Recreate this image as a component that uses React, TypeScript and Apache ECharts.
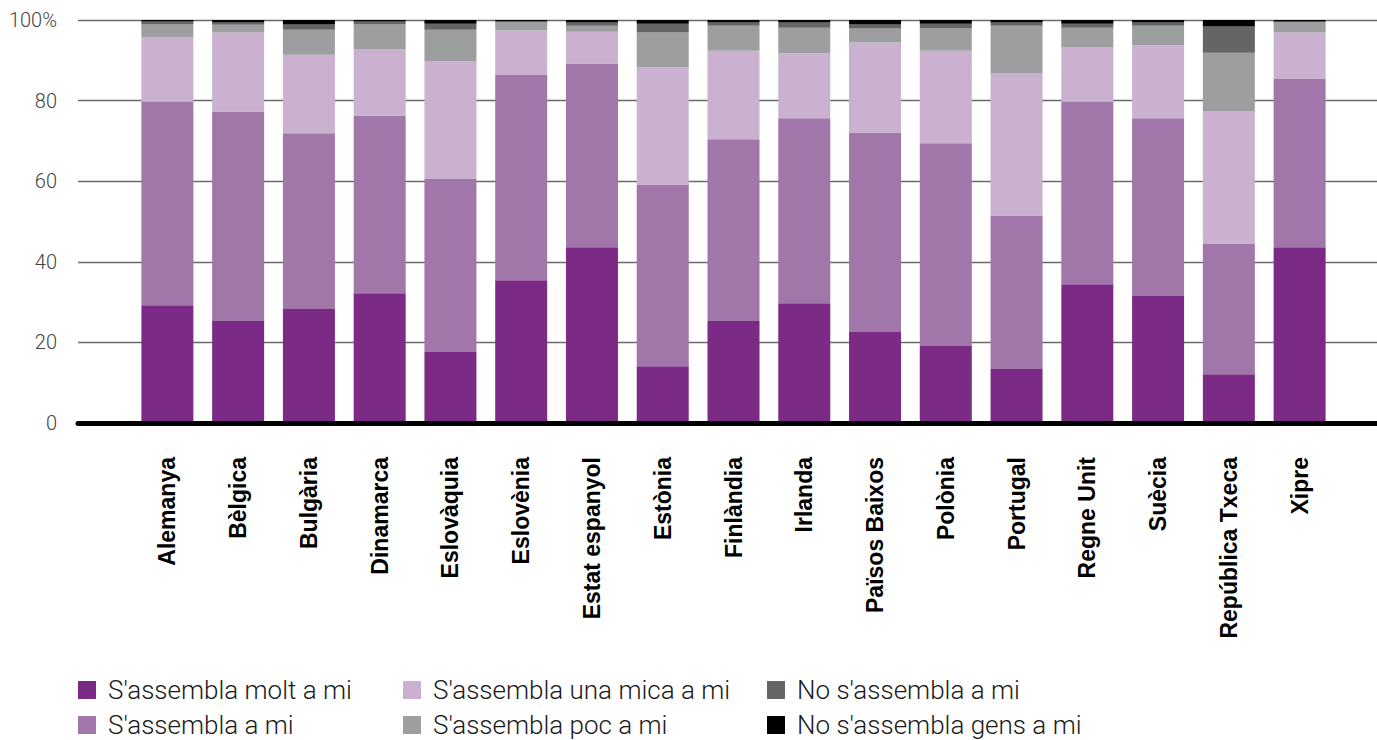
import React, { useEffect, useRef } from "react";
import * as echarts from "echarts";

const categories = [
  "Alemanya", "Bèlgica", "Bulgària", "Dinamarca", "Eslovàquia", "Eslovènia",
  "Estat espanyol", "Estònia", "Finlàndia", "Irlanda", "Països Baixos", "Polònia",
  "Portugal", "Regne Unit", "Suècia", "República Txeca", "Xipre",
];

const seriesNames = [
  "S'assembla molt a mi",
  "S'assembla a mi",
  "S'assembla una mica a mi",
  "S'assembla poc a mi",
  "No s'assembla a mi",
  "No s'assembla gens a mi",
];

const moltAMi = [29.2, 25.3, 28.3, 32.2, 17.6, 35.4, 43.6, 14.1, 25.3, 29.7, 22.6, 19.1, 13.4, 34.4, 31.5, 12.1, 43.6];
const aMi = [50.6, 52.0, 43.6, 44.1, 43.1, 51.1, 45.6, 45.1, 45.1, 45.9, 49.5, 50.3, 38.1, 45.4, 44.1, 32.3, 41.9];
const unaMicaAMi = [15.9, 19.6, 19.5, 16.4, 29.0, 10.9, 7.9, 29.0, 22.0, 16.1, 22.3, 23.0, 35.2, 13.4, 18.1, 32.9, 11.4];
const pocAMi = [3.2, 1.9, 6.2, 6.2, 7.9, 2.0, 1.5, 8.7, 6.2, 6.4, 3.5, 5.5, 11.9, 4.9, 4.9, 14.6, 2.5];
const noAMi = [0.7, 0.6, 1.3, 0.7, 1.5, 0.3, 0.8, 2.2, 0.8, 1.3, 1.0, 1.2, 0.8, 1.0, 0.8, 6.5, 0.2];
const gensAMi = [0.4, 0.6, 1.1, 0.4, 0.9, 0.3, 0.6, 0.9, 0.6, 0.6, 1.1, 0.9, 0.6, 0.9, 0.6, 1.6, 0.4];

const seriesData = [moltAMi, aMi, unaMicaAMi, pocAMi, noAMi, gensAMi];
const colors = ["#7B2A85", "#A176A8", "#C9B1CF", "#9D9EA0", "#646567", "#000000"];

const yTicks = [0, 20, 40, 60, 80, 100];

export default function App() {
  const ref = useRef<HTMLDivElement>(null);

  useEffect(() => {
    if (!ref.current) return;
    const chart = echarts.init(ref.current, undefined, { renderer: "svg" });
    const legendText = {
      fontFamily: "Roboto",
      fontWeight: 300,
      fontSize: 26,
      lineHeight: 26,
      color: "#1a1a1a",
      padding: [0, 0, 0, 7],
    };
    const legendBase = {
      orient: "vertical",
      top: 677,
      padding: 0,
      itemWidth: 18,
      itemHeight: 18,
      itemGap: 9,
      icon: "rect",
      textStyle: legendText,
    };
    chart.setOption({
      animation: false,
      color: colors,
      grid: [
        { left: 78, right: 0, top: 20, height: 403 },
        { left: 132, width: 1203, top: 20, height: 403 },
      ],
      legend: [
        { ...legendBase, left: 78, data: [seriesNames[0], seriesNames[1]] },
        { ...legendBase, left: 403, data: [seriesNames[2], seriesNames[3]] },
        { ...legendBase, left: 767, data: [seriesNames[4], seriesNames[5]] },
      ],
      xAxis: [
        {
          gridIndex: 0,
          type: "value",
          min: 0,
          max: 1,
          z: 10,
          axisLine: { show: true, lineStyle: { color: "#000", width: 5 } },
          axisTick: { show: false },
          axisLabel: { show: false },
          splitLine: { show: false },
        },
        {
          gridIndex: 1,
          type: "category",
          data: categories,
          axisLine: { show: false },
          axisTick: { show: false },
          axisLabel: {
            rotate: 90,
            margin: 34,
            interval: 0,
            fontFamily: "Liberation Sans",
            fontWeight: "bold",
            fontSize: 23,
            color: "#000",
          },
        },
      ],
      yAxis: [
        {
          gridIndex: 0,
          type: "value",
          min: yTicks[0],
          max: yTicks[yTicks.length - 1],
          interval: 20,
          axisLine: { show: false },
          axisTick: { show: false },
          axisLabel: {
            margin: 21,
            fontFamily: "Roboto",
            fontWeight: 300,
            fontSize: 20,
            color: "#444",
            formatter: (v: number) => (v === 100 ? "100%" : String(v)),
          },
          splitLine: { show: true, lineStyle: { color: "#6a6a6a", width: 1.3 } },
        },
        {
          gridIndex: 1,
          type: "value",
          min: 0,
          max: 100,
          show: false,
          splitLine: { show: false },
        },
      ],
      series: seriesData.map((d, i) => ({
        name: seriesNames[i],
        type: "bar",
        stack: "total",
        xAxisIndex: 1,
        yAxisIndex: 1,
        barWidth: 52,
        data: d,
        itemStyle: { color: colors[i] },
      })),
    });
    return () => chart.dispose();
  }, []);

  return (
    <div
      ref={ref}
      style={{ position: "absolute", left: 0, top: 0, width: 1377, height: 740 }}
    />
  );
}
